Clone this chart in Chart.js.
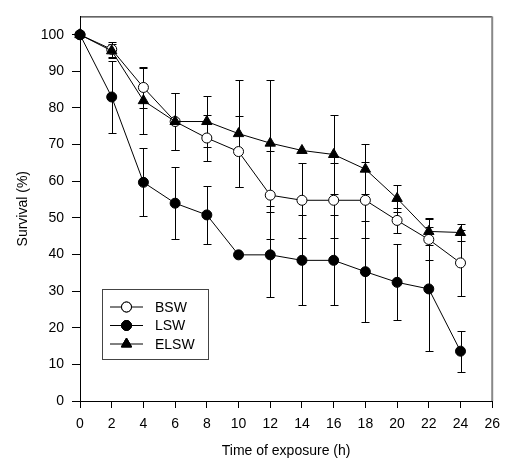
<!DOCTYPE html>
<html>
<head>
<meta charset="utf-8">
<script src="https://cdn.jsdelivr.net/npm/chart.js@4/dist/chart.umd.min.js"></script>
<style>
  html, body { margin: 0; padding: 0; background: #fff; }
  #wrap { width: 508px; height: 462px; }
</style>
</head>
<body>
<div id="wrap"><canvas id="chart" width="508" height="462"></canvas></div>
<script>
// Data
const hours = [0, 2, 4, 6, 8, 10, 12, 14, 16, 18, 20, 22, 24];
const bsw = [100, 96, 85.6, 76.3, 71.8, 68.1, 56.2, 54.8, 54.8, 54.8, 49.3, 44.1, 37.7];
const bswErr = [0, 2, 5.6, 7.8, 6.3, 9.8, 12, 10.2, 10.2, 10.4, 3.4, 5.7, 8.9];
const lsw = [100, 83, 59.7, 54, 50.8, 39.9, 39.9, 38.4, 38.4, 35.3, 32.4, 30.6, 13.6];
const lswErr = [0, 9.8, 9.3, 9.8, 7.9, 0, 11.6, 12.3, 12.3, 13.8, 10.4, 17, 5.6];
const elsw = [100, 95.6, 82, 76.3, 76.3, 73, 70.4, 68.4, 67.3, 63.3, 55.3, 46.3, 46];
const elswErr = [0, 2, 9, 7.8, 6.9, 14.6, 17.2, 0, 10.7, 6.9, 3.8, 3.7, 2.3];
const xTicks = [0, 2, 4, 6, 8, 10, 12, 14, 16, 18, 20, 22, 24, 26];
const yTicks = [0, 10, 20, 30, 40, 50, 60, 70, 80, 90, 100];

const FONT = 'Liberation Sans, Arial, sans-serif';

const toPoints = (ys) => hours.map((h, i) => ({ x: h, y: ys[i] }));

// order: higher is drawn first (underneath)
const series = [
    { label: 'BSW', data: bsw, err: bswErr, style: 'circle', fill: '#ffffff', order: 3 },
    { label: 'LSW', data: lsw, err: lswErr, style: 'circle', fill: '#000000', order: 1 },
    { label: 'ELSW', data: elsw, err: elswErr, style: 'triangle', fill: '#000000', order: 2 }
];

// error bars, drawn under the markers
const errorBars = {
    id: 'errorBars',
    beforeDatasetsDraw(chart) {
        const { ctx, scales: { x, y } } = chart;
        ctx.save();
        ctx.strokeStyle = '#000';
        ctx.lineWidth = 1;
        series.forEach(s => {
            hours.forEach((h, i) => {
                const e = s.err[i];
                if (!e) return;
                const px = Math.round(x.getPixelForValue(h)) + 0.5;
                const top = Math.round(y.getPixelForValue(s.data[i] + e)) + 0.5;
                const bot = Math.round(y.getPixelForValue(s.data[i] - e)) + 0.5;
                ctx.beginPath();
                ctx.moveTo(px, top); ctx.lineTo(px, bot);
                ctx.moveTo(px - 4, top); ctx.lineTo(px + 4, top);
                ctx.moveTo(px - 4, bot); ctx.lineTo(px + 4, bot);
                ctx.stroke();
            });
        });
        ctx.restore();
    }
};

// top/right frame and the boxed legend
const frameAndLegend = {
    id: 'frameAndLegend',
    afterDraw(chart) {
        const { ctx, chartArea: a } = chart;
        ctx.save();
        ctx.strokeStyle = '#000';
        ctx.lineWidth = 1;
        ctx.beginPath();
        ctx.moveTo(a.left, a.top + 0.5);
        ctx.lineTo(a.right, a.top + 0.5);
        ctx.stroke();
        ctx.strokeStyle = '#888';
        ctx.lineWidth = 2;
        ctx.beginPath();
        ctx.moveTo(a.right, a.top);
        ctx.lineTo(a.right, a.bottom);
        ctx.stroke();

        // legend
        ctx.strokeStyle = '#444';
        ctx.lineWidth = 1;
        ctx.strokeRect(102.5, 289.5, 106, 70);
        ctx.font = '14px ' + FONT;
        ctx.textBaseline = 'middle';
        ctx.fillStyle = '#000';
        const rows = [307, 325.5, 344];
        series.forEach((s, i) => {
            const yy = rows[i];
            ctx.strokeStyle = '#000';
            ctx.beginPath();
            ctx.moveTo(110, yy); ctx.lineTo(143, yy);
            ctx.stroke();
            Chart.helpers.drawPoint(ctx, {
                pointStyle: s.style, radius: s.style === 'triangle' ? 6 : 5, borderWidth: 1
            }, 126.5, yy);
            ctx.fillStyle = s.fill;
            ctx.fill();
            ctx.stroke();
            ctx.fillStyle = '#000';
            ctx.fillText(s.label, 155, yy + 1);
        });
        ctx.restore();
    }
};

new Chart(document.getElementById('chart'), {
    type: 'line',
    data: {
        datasets: series.map(s => ({
            label: s.label,
            data: toPoints(s.data),
            order: s.order,
            borderColor: '#000',
            borderWidth: 1,
            pointStyle: s.style,
            pointRadius: s.style === 'triangle' ? 6 : 5,
            pointBackgroundColor: s.fill,
            pointBorderColor: '#000',
            pointBorderWidth: 1,
            tension: 0,
            clip: false
        }))
    },
    options: {
        responsive: false,
        animation: false,
        layout: { padding: { top: 8, right: 11, left: 0, bottom: 0 } },
        plugins: {
            legend: { display: false },
            tooltip: { enabled: false }
        },
        scales: {
            x: {
                type: 'linear',
                min: 0,
                max: 26,
                afterBuildTicks: (scale) => { scale.ticks = xTicks.map(v => ({ value: v })); },
                afterFit: (scale) => { scale.height = 61; },
                grid: { drawOnChartArea: false, drawTicks: true, tickLength: 7, color: '#000' },
                border: { display: true, color: '#000', width: 1 },
                ticks: { color: '#000', padding: 8, maxRotation: 0, font: { family: FONT, size: 14 } },
                title: {
                    display: true,
                    text: 'Time of exposure (h)',
                    color: '#000',
                    font: { family: FONT, size: 14 },
                    padding: { top: 0, bottom: 2 }
                }
            },
            y: {
                min: 0,
                max: 105,
                afterBuildTicks: (scale) => { scale.ticks = yTicks.map(v => ({ value: v })); },
                afterFit: (scale) => { scale.width = 80; },
                grid: { drawOnChartArea: false, drawTicks: true, tickLength: 8, color: '#000' },
                border: { display: true, color: '#000', width: 1 },
                ticks: { color: '#000', padding: 8, font: { family: FONT, size: 14 } },
                title: {
                    display: true,
                    text: 'Survival (%)',
                    color: '#000',
                    font: { family: FONT, size: 14 },
                    padding: { top: 15, bottom: 0 }
                }
            }
        }
    },
    plugins: [errorBars, frameAndLegend]
});
</script>
</body>
</html>
